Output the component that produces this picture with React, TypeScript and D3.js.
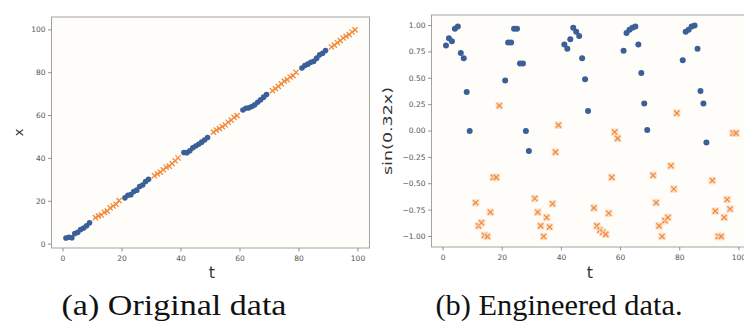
import React from "react";
import * as d3 from "d3";

// ---- data ----
const tBlue = [1,2,3,4,5,6,7,8,9, 21,22,23,24,25,26,27,28,29, 41,42,43,44,45,46,47,48,49, 61,62,63,64,65,66,67,68,69, 81,82,83,84,85,86,87,88,89];
const xBlue = [2.9,3.2,3.0,5.0,5.5,6.8,7.5,8.6,10.0, 21.6,22.8,23.1,24.6,25.2,26.9,27.6,29.2,30.3, 42.8,42.7,43.6,45.0,45.8,46.6,47.6,48.6,49.8, 62.6,63.4,63.6,64.2,65.0,66.2,67.4,68.6,69.8, 82.2,83.4,84.0,84.9,85.3,86.8,88.4,89.1,90.4];
const sinBlue = [0.81,0.88,0.85,0.97,0.99,0.74,0.69,0.37,0.00, 0.48,0.84,0.84,0.97,0.97,0.64,0.64,0.00,-0.19, 0.82,0.78,0.87,0.98,0.94,0.90,0.69,0.49,0.19, 0.76,0.93,0.96,0.98,0.99,0.82,0.55,0.26,0.01, 0.67,0.94,0.96,0.99,1.00,0.78,0.38,0.26,-0.11];

const tOrange = [11,12,13,14,15,16,17,18,19, 31,32,33,34,35,36,37,38,39, 51,52,53,54,55,56,57,58,59, 71,72,73,74,75,76,77,78,79, 91,92,93,94,95,96,97,98,99];
const xOrange = [12.4,13.2,13.6,14.8,15.4,16.9,17.8,18.6,20.3, 32.0,32.8,33.6,34.7,35.9,36.4,37.6,38.9,40.2, 52.3,53.2,53.9,54.8,55.6,56.9,57.9,59.2,60.0, 71.6,72.6,73.6,74.8,76.1,76.8,78.0,78.6,80.2, 92.0,92.9,94.0,95.0,96.2,97.0,97.8,99.0,100.0];
const sinOrange = [-0.68,-0.90,-0.87,-0.99,-1.00,-0.77,-0.44,-0.44,0.24, -0.64,-0.77,-0.90,-1.00,-0.82,-0.91,-0.69,-0.20,0.055, -0.73,-0.90,-0.94,-0.96,-0.98,-0.78,-0.44,-0.01,-0.07, -0.42,-0.68,-0.90,-1.00,-0.85,-0.82,-0.33,-0.55,0.17, -0.47,-0.76,-1.00,-1.00,-0.82,-0.65,-0.74,-0.02,-0.02];

const tTicks = [0,20,40,60,80,100];
const xTicks = [0,20,40,60,80,100];
const sinTicks = [1.0,0.75,0.5,0.25,0,-0.25,-0.5,-0.75,-1.0];

const BLUE = "#3b5f98";
const ORANGE = "#f28a3a";
const FRAME = "#a3a3a3";
const TICKTXT = "#555";
const SANS = "DejaVu Sans, sans-serif";
const SERIF = "Liberation Serif, Times New Roman, Times, serif";

type PanelProps = {
  xs: d3.ScaleLinear<number, number>;
  ys: d3.ScaleLinear<number, number>;
  xt: number[];
  yt: number[];
  yfmt: (v: number) => string;
  bx: number[]; by: number[];
  ox: number[]; oy: number[];
  r: number; halo: boolean;
  ylabel: string; ylabelX: number; ylabelLen?: number;
  tlabelX: number;
};

function Panel(p: PanelProps) {
  const [x0, x1] = p.xs.range();
  const [y0, y1] = p.ys.range(); // y0 bottom, y1 top
  const s = 2.6;
  return (
    <g>
      <rect x={x0} y={y1} width={x1 - x0} height={y0 - y1} fill="#fffdfa" stroke={FRAME} strokeWidth={1} />
      {p.xt.map((v) => (
        <g key={"xt" + v} transform={`translate(${p.xs(v)},${y0})`}>
          <line y1={0} y2={3.5} stroke="#777" strokeWidth={0.8} />
          <text y={13} textAnchor="middle" fontSize={7.5} fill={TICKTXT} fontFamily={SANS}>{v}</text>
        </g>
      ))}
      {p.yt.map((v) => (
        <g key={"yt" + v} transform={`translate(${x0},${p.ys(v)})`}>
          <line x1={0} x2={-3.5} stroke="#777" strokeWidth={0.8} />
          <text x={-6} dy="0.33em" textAnchor="end" fontSize={7.5} fill={TICKTXT} fontFamily={SANS}>{p.yfmt(v)}</text>
        </g>
      ))}
      {p.bx.map((v, i) => (
        <circle key={"b" + i} cx={p.xs(v)} cy={p.ys(p.by[i])} r={p.r} fill={BLUE} />
      ))}
      {p.ox.map((v, i) => {
        const cx = p.xs(v), cy = p.ys(p.oy[i]);
        return (
          <g key={"o" + i} transform={`translate(${cx},${cy})`}>
            {p.halo && <rect x={-3.8} y={-3.8} width={7.6} height={7.6} fill="#f9dcc4" opacity={0.8} />}
            <path d={`M${-s},${-s}L${s},${s}M${-s},${s}L${s},${-s}`} stroke={ORANGE} strokeWidth={1.3} fill="none" />
          </g>
        );
      })}
      <text x={p.tlabelX} y={278} textAnchor="middle" fontSize={16} fill="#333" fontFamily={SANS}>t</text>
      <text transform={`translate(${p.ylabelX},${(y0 + y1) / 2}) rotate(-90)`} textAnchor="middle" dy="0.35em"
        fontSize={13} fill="#333" fontFamily={SANS}
        {...(p.ylabelLen ? { textLength: p.ylabelLen, lengthAdjust: "spacingAndGlyphs" } : {})}>{p.ylabel}</text>
    </g>
  );
}

export default function App() {
  const W = 744, H = 321;
  const xsL = d3.scaleLinear().domain([-3.9, 103.9]).range([51.5, 369.5]);
  const ysL = d3.scaleLinear().domain([-1.8, 106]).range([248, 17]);
  const xsR = d3.scaleLinear().domain([-3.9, 103.9]).range([431.5, 750.5]);
  const ysR = d3.scaleLinear().domain([-1.1, 1.1]).range([247, 15]);
  const fmt2 = d3.format(".2f");
  return (
    <svg width={W} height={H} style={{ position: "absolute", left: 0, top: 0, background: "#fff" }}>
      <rect width={W} height={H} fill="#fff" />
      <Panel xs={xsL} ys={ysL} xt={tTicks} yt={xTicks} yfmt={(v) => String(v)}
        bx={tBlue} by={xBlue} ox={tOrange} oy={xOrange} r={2.8} halo={false}
        ylabel="x" ylabelX={18} tlabelX={212} />
      <Panel xs={xsR} ys={ysR} xt={tTicks} yt={sinTicks} yfmt={(v) => fmt2(v)}
        bx={tBlue} by={sinBlue} ox={tOrange} oy={sinOrange} r={3} halo={true}
        ylabel="sin(0.32x)" ylabelX={387} ylabelLen={88} tlabelX={590} />
      <text x={174} y={315} textAnchor="middle" fontSize={30} fill="#111" fontFamily={SERIF}
        textLength={225} lengthAdjust="spacingAndGlyphs">(a) Original data</text>
      <text x={559} y={315} textAnchor="middle" fontSize={30} fill="#111" fontFamily={SERIF}
        textLength={247} lengthAdjust="spacingAndGlyphs">(b) Engineered data.</text>
    </svg>
  );
}
